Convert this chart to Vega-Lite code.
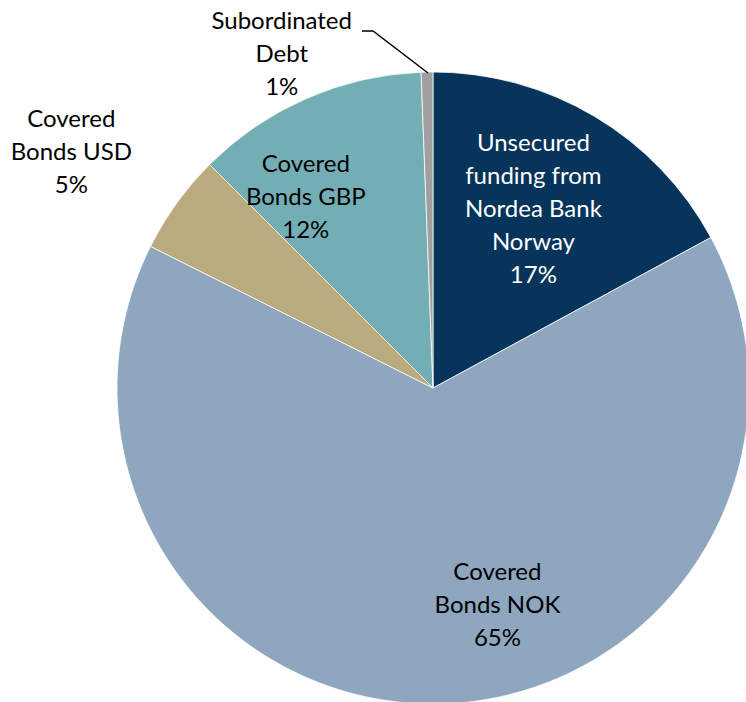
{
  "$schema": "https://vega.github.io/schema/vega-lite/v6.json",
  "width": 746,
  "height": 702,
  "autosize": {"type": "none"},
  "padding": 0,
  "background": "white",
  "view": {"stroke": null},
  "config": {"text": {"font": "Lato", "fontSize": 24, "lineHeight": 33, "baseline": "middle", "align": "center"}},
  "datasets": {
    "slices": [
      {"category": "Unsecured funding from Nordea Bank Norway", "value": 17.1, "rank": 1, "label": ["Unsecured", "funding from", "Nordea Bank", "Norway", "17%"]},
      {"category": "Covered Bonds NOK", "value": 65.3, "rank": 2, "label": ["Covered", "Bonds NOK", "65%"]},
      {"category": "Covered Bonds USD", "value": 5.1, "rank": 3, "label": ["Covered", "Bonds USD", "5%"]},
      {"category": "Covered Bonds GBP", "value": 11.9, "rank": 4, "label": ["Covered", "Bonds GBP", "12%"]},
      {"category": "Subordinated Debt", "value": 0.6, "rank": 5, "label": ["Subordinated", "Debt", "1%"]}
    ],
    "leader": [
      {"px": 428, "py": 73, "k": 0},
      {"px": 373, "py": 31, "k": 1},
      {"px": 362, "py": 31, "k": 2}
    ]
  },
  "layer": [
    {
      "data": {"name": "slices"},
      "mark": {"type": "arc", "x": 433, "y": 388, "outerRadius": 316, "stroke": "white", "strokeWidth": 0.75},
      "encoding": {
        "theta": {"field": "value", "type": "quantitative", "stack": true},
        "order": {"field": "rank", "type": "quantitative"},
        "color": {
          "field": "category", "type": "nominal", "legend": null,
          "scale": {
            "domain": ["Unsecured funding from Nordea Bank Norway", "Covered Bonds NOK", "Covered Bonds USD", "Covered Bonds GBP", "Subordinated Debt"],
            "range": ["#06345A", "#8EA6BE", "#BAAB7F", "#74AEB5", "#A0A0A0"]
          }
        }
      }
    },
    {
      "data": {"name": "slices"},
      "mark": {"type": "text", "x": 433, "y": 388, "radius": 204, "dx": -4, "dy": -69, "color": "white"},
      "encoding": {
        "theta": {"field": "value", "type": "quantitative", "stack": true},
        "order": {"field": "rank", "type": "quantitative"},
        "detail": {"field": "category", "type": "nominal"},
        "text": {"condition": {"test": "datum.rank === 1", "field": "label"}, "value": ""}
      }
    },
    {
      "data": {"name": "slices"},
      "mark": {"type": "text", "x": 433, "y": 388, "radius": 218, "dx": 61, "dy": -33, "color": "black"},
      "encoding": {
        "theta": {"field": "value", "type": "quantitative", "stack": true},
        "order": {"field": "rank", "type": "quantitative"},
        "detail": {"field": "category", "type": "nominal"},
        "text": {"condition": {"test": "datum.rank === 2", "field": "label"}, "value": ""}
      }
    },
    {
      "data": {"name": "slices"},
      "mark": {"type": "text", "x": 433, "y": 388, "radius": 430, "dx": -13, "dy": -16, "color": "black"},
      "encoding": {
        "theta": {"field": "value", "type": "quantitative", "stack": true},
        "order": {"field": "rank", "type": "quantitative"},
        "detail": {"field": "category", "type": "nominal"},
        "text": {"condition": {"test": "datum.rank === 3", "field": "label"}, "value": ""}
      }
    },
    {
      "data": {"name": "slices"},
      "mark": {"type": "text", "x": 433, "y": 388, "radius": 228, "dx": -36, "dy": -14, "color": "black"},
      "encoding": {
        "theta": {"field": "value", "type": "quantitative", "stack": true},
        "order": {"field": "rank", "type": "quantitative"},
        "detail": {"field": "category", "type": "nominal"},
        "text": {"condition": {"test": "datum.rank === 4", "field": "label"}, "value": ""}
      }
    },
    {
      "data": {"name": "slices"},
      "mark": {"type": "text", "x": 433, "y": 388, "radius": 333, "dx": -145, "dy": -33, "color": "black"},
      "encoding": {
        "theta": {"field": "value", "type": "quantitative", "stack": true},
        "order": {"field": "rank", "type": "quantitative"},
        "detail": {"field": "category", "type": "nominal"},
        "text": {"condition": {"test": "datum.rank === 5", "field": "label"}, "value": ""}
      }
    },
    {
      "data": {"name": "leader"},
      "mark": {"type": "line", "color": "black", "strokeWidth": 1.5},
      "encoding": {
        "x": {"field": "px", "type": "quantitative", "scale": {"domain": [0, 746], "range": [0, 746]}, "axis": null},
        "y": {"field": "py", "type": "quantitative", "scale": {"domain": [0, 702], "range": [0, 702]}, "axis": null},
        "order": {"field": "k", "type": "quantitative"}
      }
    }
  ]
}
